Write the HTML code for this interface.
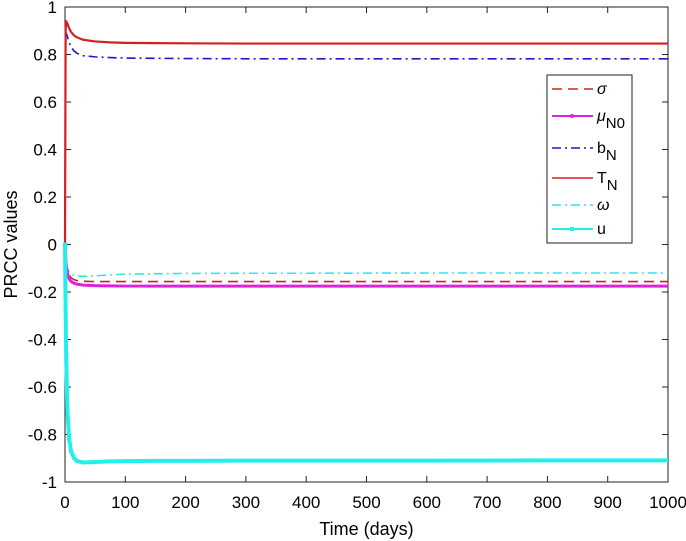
<!DOCTYPE html>
<html><head><meta charset="utf-8"><style>
body{margin:0;background:#fff;}
svg{display:block;font-family:"Liberation Sans",sans-serif;}
</style></head><body>
<svg id="chart" width="686" height="541"></svg>
<script>
const times=[0,1,2,4,7,10,15,20,30,50,75,100,150,200,300,400,600,800,1000];
const tN=[0,0.9,0.94,0.93,0.91,0.895,0.88,0.872,0.862,0.855,0.851,0.849,0.848,0.847,0.846,0.846,0.846,0.846,0.846];
const bN=[0,0.85,0.89,0.875,0.85,0.83,0.815,0.805,0.795,0.79,0.787,0.785,0.784,0.783,0.782,0.782,0.782,0.782,0.782];
const sigma=[0,-0.05,-0.08,-0.11,-0.13,-0.14,-0.148,-0.152,-0.155,-0.156,-0.156,-0.156,-0.156,-0.156,-0.156,-0.156,-0.156,-0.156,-0.156];
const mu=[0,-0.05,-0.09,-0.12,-0.145,-0.155,-0.163,-0.167,-0.171,-0.173,-0.174,-0.175,-0.175,-0.175,-0.175,-0.175,-0.175,-0.175,-0.175];
const omega=[0,-0.05,-0.08,-0.1,-0.115,-0.123,-0.13,-0.133,-0.134,-0.132,-0.128,-0.125,-0.123,-0.122,-0.121,-0.121,-0.12,-0.12,-0.12];
const uVals=[0,-0.27,-0.48,-0.7,-0.82,-0.87,-0.9,-0.912,-0.918,-0.916,-0.913,-0.912,-0.911,-0.911,-0.91,-0.91,-0.91,-0.909,-0.909];
const xTicks=[0,100,200,300,400,500,600,700,800,900,1000];
const yTicks=[-1,-0.8,-0.6,-0.4,-0.2,0,0.2,0.4,0.6,0.8,1];
const L=65,R=668,T=7,B=482;
const sx=v=>L+(v/1000)*(R-L);
const sy=v=>T+(1-v)/2*(B-T);
const svg=document.getElementById('chart');
const NS='http://www.w3.org/2000/svg';
function mk(tag,attrs,parent){const e=document.createElementNS(NS,tag);for(const k in attrs)e.setAttribute(k,attrs[k]);(parent||svg).appendChild(e);return e;}
function series(vals,name,color,w,dash){
  const p=mk('polyline',{points:times.map((t,i)=>sx(t)+','+sy(vals[i])).join(' '),fill:'none',stroke:color,'stroke-width':w,'stroke-dasharray':dash||'none','stroke-linejoin':'round'});
  
  
  return p;
}
const box=mk('rect',{x:L,y:T,width:R-L,height:B-T,fill:'none',stroke:'#222','stroke-width':1});


xTicks.forEach(v=>{
  const x=sx(v);
  mk('line',{x1:x,x2:x,y1:B,y2:B-6,stroke:'#222'});
  mk('line',{x1:x,x2:x,y1:T,y2:T+6,stroke:'#222'});
  const t=mk('text',{x:x,y:B+26,'text-anchor':'middle','font-size':17,fill:'#000'});
  t.textContent=v;
  
  
});
yTicks.forEach(v=>{
  const y=sy(v);
  mk('line',{x1:L,x2:L+6,y1:y,y2:y,stroke:'#222'});
  mk('line',{x1:R,x2:R-6,y1:y,y2:y,stroke:'#222'});
  const t=mk('text',{x:L-8,y:y+6,'text-anchor':'end','font-size':17,fill:'#000'});
  t.textContent=v;
  
  
});
series(omega,'omega-line','#33e6e6',1.6,'9,4,2,4');
series(sigma,'sigma-line','#d42020',1.6,'10,6');
series(mu,'mu-line','#e020e0',3);
series(bN,'bn-line','#1a1acc',1.6,'9,4,2,4');
series(tN,'tn-line','#d42020',2.2);
series(uVals,'u-line','#22eeee',4);
times.slice(0,6).forEach((t,i)=>{const c=mk('rect',{x:sx(t)-2,y:sy(uVals[i])-2,width:4,height:4,fill:'#22eeee'});});
const xl=mk('text',{x:(L+R)/2,y:535,'text-anchor':'middle','font-size':18});
xl.textContent='Time (days)';


const yl=mk('text',{x:0,y:0,'text-anchor':'middle','font-size':18,transform:'translate(17,'+sy(0)+') rotate(-90)'});
yl.textContent='PRCC values';


const lg=mk('g',{});


mk('rect',{x:547,y:75,width:85,height:168,fill:'#fff',stroke:'#222'},lg);
const ents=[['σ','','#d42020',1.6,'10,6'],['μ','N0','#e020e0',2,''],['b','N','#1a1acc',1.6,'9,4,2,4'],['T','N','#d42020',1.6,''],['ω','','#33e6e6',1.6,'9,4,2,4'],['u','','#22eeee',2,'']];
const ys=[89,116,148,178,205,229];
ents.forEach((e,i)=>{
  const g=mk('g',{},lg);
  
  
  mk('line',{x1:552,x2:593,y1:ys[i],y2:ys[i],stroke:e[2],'stroke-width':e[3],'stroke-dasharray':e[4]||'none'},g);
  if(i==1)mk('circle',{cx:572,cy:ys[i],r:2,fill:e[2]},g);
  if(i==5)mk('rect',{x:570,y:ys[i]-2,width:4,height:4,fill:e[2]},g);
  const t=mk('text',{x:597,y:ys[i]+5,'font-size':16,'font-style':(i==0||i==1||i==4)?'italic':'normal'},g);
  t.textContent=e[0];
  if(e[1]){const s=mk('tspan',{dy:7,'font-size':15,'font-style':'normal'},t);s.textContent=e[1];}
});
</script>
</body></html>
